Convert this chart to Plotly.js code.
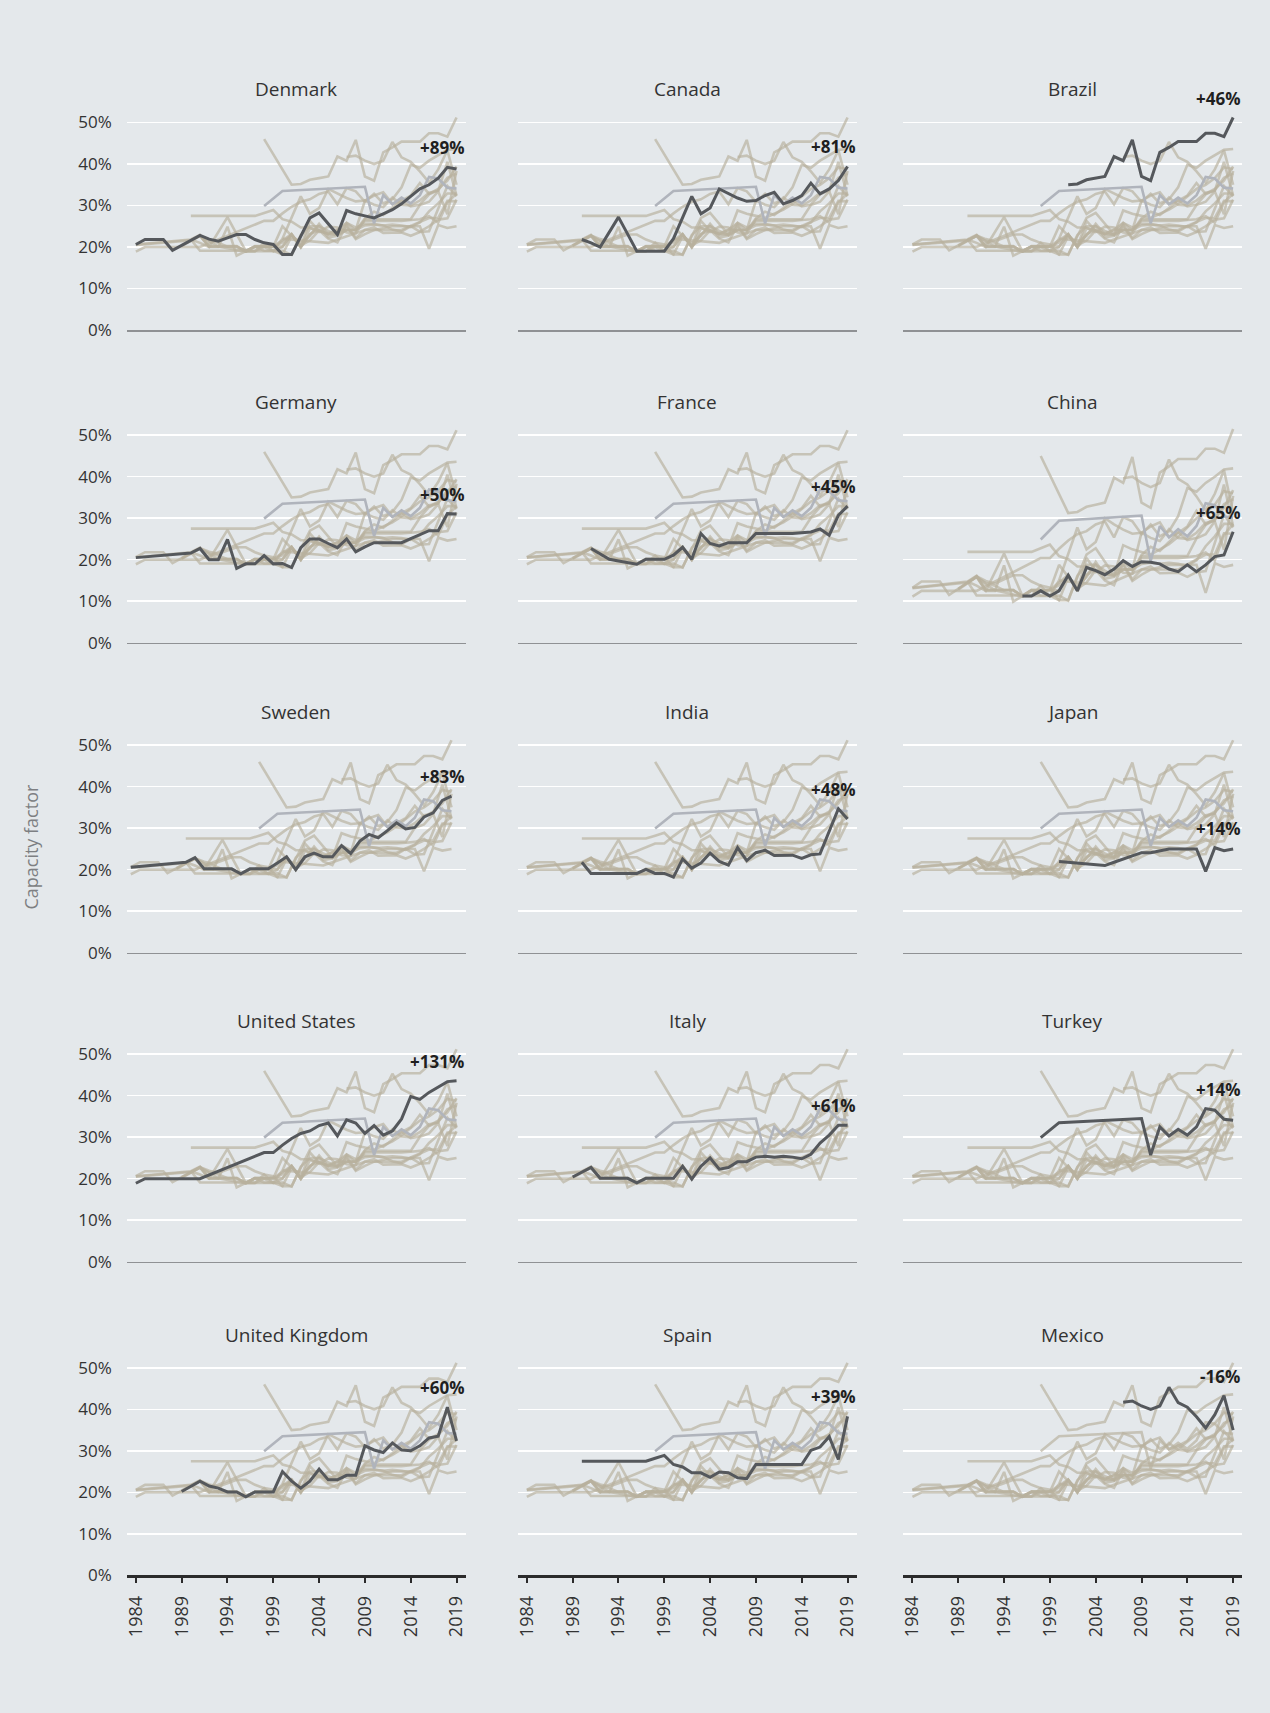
<!DOCTYPE html>
<html>
<head>
<meta charset="utf-8">
<script src="https://cdn.plot.ly/plotly-3.0.1.min.js"></script>
<style>
html,body{margin:0;padding:0;background:#e4e8eb;}
#chart{width:1270px;height:1713px;}
</style>
</head>
<body>
<div id="chart"></div>
<script>
// ---------- DATA ----------
const years = [1984,1985,1986,1987,1988,1989,1990,1991,1992,1993,1994,1995,1996,1997,1998,1999,2000,2001,2002,2003,2004,2005,2006,2007,2008,2009,2010,2011,2012,2013,2014,2015,2016,2017,2018,2019];

const countries = ['Denmark','Canada','Brazil','Germany','France','China','Sweden','India','Japan','United States','Italy','Turkey','United Kingdom','Spain','Mexico'];

const _ = null;
const denmark = [20.6,21.8,21.8,21.8,19.2,20.4,21.6,22.8,21.9,21.4,22.2,23.0,23.0,21.8,21.0,20.6,18.2,18.2,22.6,27.0,28.2,25.6,23.0,28.8,28.0,27.5,27.0,28.0,29.0,30.4,32.2,34.0,35.0,36.6,39.2,38.8];
const canada  = [_,_,_,_,_,_,21.8,21.0,20.0,23.6,27.2,23.1,19.0,19.0,19.0,19.0,22.0,27.0,32.2,28.0,29.4,34.0,32.8,31.8,31.0,31.2,32.4,33.2,30.4,31.2,32.4,35.4,32.8,34.0,36.0,39.4];
const brazil  = [_,_,_,_,_,_,_,_,_,_,_,_,_,_,46.0,_,_,35.0,35.2,36.2,36.6,37.0,41.8,40.8,45.8,37.0,36.0,42.8,44.0,45.4,45.4,45.4,47.4,47.4,46.6,51.2];
const germany = [20.5,_,_,_,_,_,21.6,22.7,20.0,20.0,24.9,17.9,19.0,19.0,21.0,19.0,19.1,18.1,22.9,25.0,25.0,23.9,22.9,25.0,21.9,23.1,24.1,24.1,24.1,24.1,25.1,26.1,27.0,27.0,31.1,31.0];
const france  = [_,_,_,_,_,_,_,22.7,21.3,20.1,19.7,19.3,18.9,20.1,20.1,20.1,21.1,23.0,20.1,26.3,23.9,23.3,24.1,24.1,24.1,26.3,26.3,26.3,26.3,26.3,26.5,26.7,27.4,25.9,30.7,32.9];
const china   = [_,_,_,_,_,_,_,_,_,_,_,_,19.0,19.0,20.0,19.0,20.0,23.0,20.0,24.5,23.9,23.1,24.2,25.8,24.7,25.6,25.5,25.2,24.2,23.7,25.0,23.7,25.0,26.6,26.9,31.4];
const sweden  = [20.6,_,_,_,_,_,21.8,22.9,20.2,20.2,20.2,20.2,19.0,20.2,20.2,20.2,21.6,23.1,20.0,23.1,24.0,23.1,23.1,25.8,23.9,26.9,28.5,27.7,29.4,31.3,29.8,30.2,32.7,33.7,36.7,37.7];
const india   = [_,_,_,_,_,_,21.8,19.1,19.1,19.1,19.1,19.1,19.1,20.1,19.1,19.1,18.2,22.6,20.4,21.6,24.0,22.0,21.1,25.3,22.2,24.1,24.7,23.4,23.4,23.5,22.7,23.6,23.8,_,34.7,32.2];
const japan   = [_,_,_,_,_,_,_,_,_,_,_,_,_,_,_,_,22.0,_,_,_,_,21.0,21.8,22.6,23.4,24.1,24.1,24.6,25.0,25.0,25.0,25.0,19.6,25.3,24.6,25.0];
const unitedStates = [18.9,20.0,20.0,20.0,20.0,20.0,20.0,20.0,_,_,_,_,_,_,26.3,26.3,28.1,29.7,30.9,31.5,32.8,33.4,30.3,34.2,33.4,30.9,32.8,30.5,31.5,34.4,39.8,39.1,40.8,42.0,43.4,43.6];
const italy   = [_,_,_,_,_,20.4,21.5,22.7,20.1,20.1,20.1,20.1,19.0,20.1,20.1,20.1,20.1,23.0,19.9,23.0,25.0,22.3,22.7,24.1,24.1,25.2,25.4,25.2,25.4,25.2,24.8,25.9,28.6,30.5,32.9,32.9];
const turkey  = [_,_,_,_,_,_,_,_,_,_,_,_,_,_,29.9,_,33.5,_,_,_,_,_,_,_,_,34.5,25.7,32.5,30.3,31.9,30.5,32.5,36.9,36.5,34.3,34.1];
const unitedKingdom = [_,_,_,_,_,20.2,21.5,22.7,21.5,21.0,20.1,20.1,18.9,20.1,20.1,20.1,25.0,22.7,21.0,22.7,25.6,23.0,23.0,24.1,24.1,31.2,30.2,29.6,31.9,30.2,30.0,31.2,33.1,33.5,40.5,32.4];
const spain   = [_,_,_,_,_,_,27.5,27.5,27.5,27.5,27.5,27.5,27.5,27.5,28.2,28.9,26.7,26.1,24.7,24.7,23.6,24.9,24.7,23.5,23.3,26.7,26.7,26.7,26.7,26.7,26.7,30.1,30.9,33.4,27.9,38.3];
const mexico  = [_,_,_,_,_,_,_,_,_,_,_,_,_,_,_,_,_,_,_,_,_,_,_,41.7,42.0,40.8,40.0,40.8,45.3,41.6,40.5,38.2,35.5,38.7,43.3,35.0];

const series = [denmark,canada,brazil,germany,france,china,sweden,india,japan,unitedStates,italy,turkey,unitedKingdom,spain,mexico];

// first year of the highlighted line in each panel
const highlightFrom = [1984,1990,2001,1984,1991,1996,1984,1990,2000,1984,1989,1998,1989,1990,2007];
// change labels shown in each panel
const changeLabels = ['+89%','+81%','+46%','+50%','+45%','+65%','+83%','+48%','+14%','+131%','+61%','+14%','+60%','+39%','-16%'];

const xTickYears = [1984,1989,1994,1999,2004,2009,2014,2019];
const yTickValues = [0,10,20,30,40,50];
const yTickLabels = ['0%','10%','20%','30%','40%','50%'];

// ---------- STYLE / GEOMETRY ----------
const W = 1270, H = 1713;
const FONT = '"Open Sans", "Noto Sans", sans-serif';
const BG = '#e4e8eb';
const colLeft = [126.7, 517.7, 903.3];
const plotW = 339;
const rowZero = [330, 642.7, 952.7, 1261.7, 1575.3];
const yMax = 52;
const pxPerPct = 4.15;
const plotH = yMax * pxPerPct;
const beige = 'rgba(184,177,157,0.68)';
const accentGrey = 'rgba(176,180,188,1)';
const dark = '#55585c';
const accentCountry = 'Turkey';
const accentSkipPanels = ['Mexico'];
// per-panel axis quirks of the original figure
const panelYScale = {China: {range:[10, 10 + 0.8*yMax], tickvals:[10,18,26,34,42,50]}};
const panelXShift = {Sweden: 0.55};

const traces = [];
const layout = {
  width: W, height: H,
  margin: {l:0, r:0, t:0, b:0},
  paper_bgcolor: BG, plot_bgcolor: BG,
  showlegend: false,
  font: {family: FONT, color: '#333'},
  annotations: []
};

countries.forEach((name, p) => {
  const n = p + 1;
  const sx = n === 1 ? '' : String(n);
  const row = Math.floor(p / 3), col = p % 3;
  const x0 = colLeft[col] / W, x1 = (colLeft[col] + plotW) / W;
  const yb = 1 - rowZero[row] / H, yt = 1 - (rowZero[row] - plotH) / H;
  const shift = panelXShift[name] || 0;
  const yq = panelYScale[name];

  layout['xaxis' + sx] = {
    domain: [x0, x1],
    anchor: 'y' + sx,
    range: [1983 + shift, 2020 + shift],
    showgrid: false, zeroline: false,
    showline: true,
    linecolor: row === 4 ? '#2b2b2b' : '#8f9194',
    linewidth: row === 4 ? 2.5 : 1.5,
    tickmode: 'array', tickvals: xTickYears, ticktext: xTickYears.map(String),
    showticklabels: row === 4,
    ticks: row === 4 ? 'outside' : '',
    ticklen: 5, tickwidth: 2, tickcolor: '#2b2b2b',
    tickangle: -90,
    ticklabelstandoff: 6,
    tickfont: {size: 18, color: '#333', family: FONT},
    fixedrange: true
  };
  layout['yaxis' + sx] = {
    domain: [yb, yt],
    anchor: 'x' + sx,
    range: yq ? yq.range : [0, yMax],
    tickmode: 'array',
    tickvals: yq ? yq.tickvals : yTickValues,
    ticktext: yTickLabels,
    showticklabels: col === 0,
    ticks: '',
    ticklabelstandoff: 14,
    tickfont: {size: 17, color: '#333', family: FONT},
    showgrid: true, gridcolor: '#ffffff', gridwidth: 1.5,
    zeroline: false, showline: false,
    fixedrange: true
  };

  // background: all other countries, accent country drawn last
  const order = countries.map((c, i) => i).filter(i => i !== p);
  order.sort((a, b) => (countries[a] === accentCountry) - (countries[b] === accentCountry));
  order.forEach(i => {
    const isAccent = countries[i] === accentCountry && !accentSkipPanels.includes(name);
    traces.push({
      type: 'scatter', mode: 'lines',
      x: years, y: series[i],
      xaxis: 'x' + sx, yaxis: 'y' + sx,
      connectgaps: true,
      line: {color: isAccent ? accentGrey : beige, width: 2.6},
      hoverinfo: 'skip'
    });
  });

  // highlighted country
  const hx = [], hy = [];
  years.forEach((yr, k) => { if (yr >= highlightFrom[p]) { hx.push(yr); hy.push(series[p][k]); } });
  traces.push({
    type: 'scatter', mode: 'lines',
    x: hx, y: hy,
    xaxis: 'x' + sx, yaxis: 'y' + sx,
    connectgaps: true,
    line: {color: dark, width: 3},
    name: name
  });

  // panel title
  layout.annotations.push({
    text: name, showarrow: false,
    xref: 'x' + sx + ' domain', yref: 'y' + sx + ' domain',
    x: 0.5, y: 1 + 25 / plotH, xanchor: 'center', yanchor: 'middle',
    font: {size: 19, color: '#333', family: FONT}
  });

  // change label above the end of the line
  const tail = hy.filter(v => v !== null).slice(-4);
  layout.annotations.push({
    text: '<b>' + changeLabels[p] + '</b>', showarrow: false,
    xref: 'x' + sx + ' domain', yref: 'y' + sx,
    x: 1, y: Math.max(...tail), xanchor: 'right', yanchor: 'middle',
    yshift: 19.5,
    font: {size: 17, color: '#1f1f1f', family: FONT}
  });
});

layout.annotations.push({
  text: 'Capacity factor', showarrow: false,
  xref: 'paper', yref: 'paper',
  x: 30.6 / W, y: 1 - 847 / H, xanchor: 'center', yanchor: 'middle',
  textangle: -90,
  font: {size: 18, color: '#7d7f82', family: FONT}
});

Plotly.newPlot('chart', traces, layout, {staticPlot: true, displayModeBar: false});
</script>
</body>
</html>
